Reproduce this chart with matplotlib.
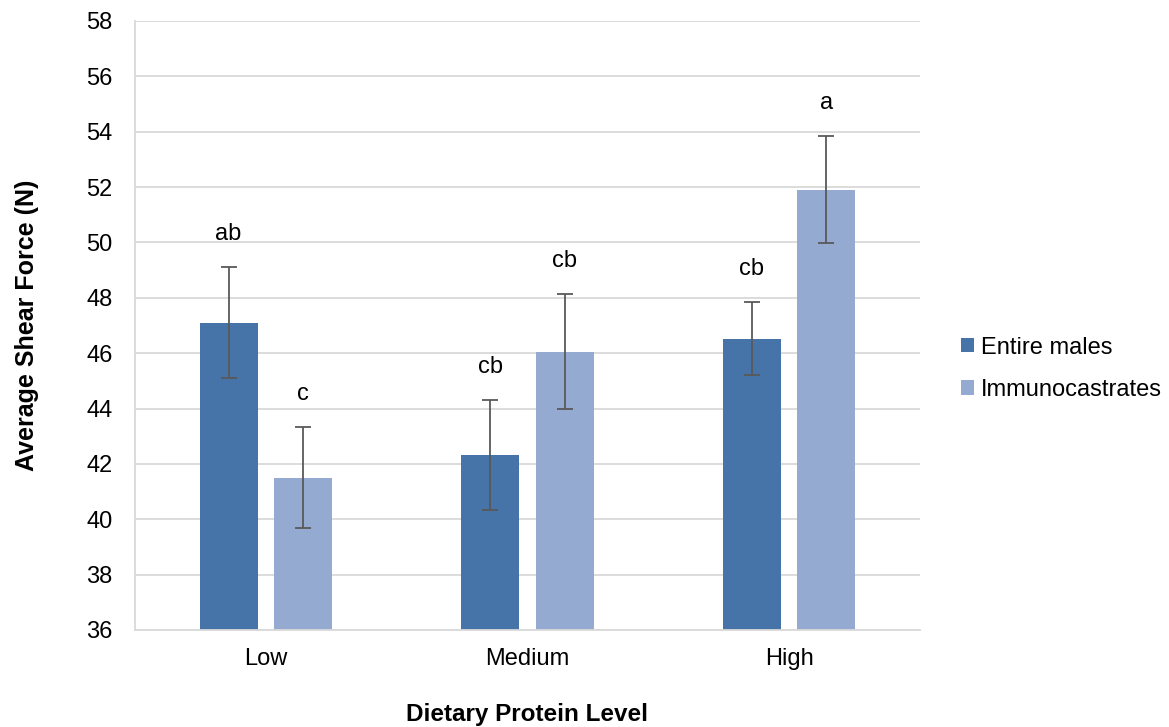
import matplotlib
matplotlib.use("Agg")
import matplotlib.pyplot as plt
import numpy as np

plt.rcParams['font.family'] = ['Liberation Sans', 'DejaVu Sans']

categories = ["Low", "Medium", "High"]
series_names = ["Entire males", "Immunocastrates"]
entire = [47.1, 42.32, 46.53]
entire_err = [2.0, 1.98, 1.31]
immuno = [41.5, 46.06, 51.9]
immuno_err = [1.83, 2.07, 1.93]
entire_letters = ["ab", "cb", "cb"]
immuno_letters = ["c", "cb", "a"]
yticks = [36, 38, 40, 42, 44, 46, 48, 50, 52, 54, 56, 58]

c_dark = "#4674A8"
c_light = "#95AAD0"
err_col = "#595959"
grid_col = "#D9D9D9"

W, H = 1169, 727
fig = plt.figure(figsize=(W / 100, H / 100), dpi=100)
ax = fig.add_axes([135 / W, 1 - 630 / H, (920 - 135) / W, (630 - 21) / H])

x = np.arange(len(categories))
w = 0.222
off = 0.1425

ax.bar(x - off, [v - 36 for v in entire], w, bottom=36, color=c_dark, label=series_names[0], zorder=2)
ax.bar(x + off, [v - 36 for v in immuno], w, bottom=36, color=c_light, label=series_names[1], zorder=2)
ax.errorbar(x - off, entire, yerr=entire_err, fmt='none', ecolor=err_col, elinewidth=1.3, capsize=5.5, capthick=1.3, zorder=3)
ax.errorbar(x + off, immuno, yerr=immuno_err, fmt='none', ecolor=err_col, elinewidth=1.3, capsize=5.5, capthick=1.3, zorder=3)

for xi, v, e, t in zip(x - off, entire, entire_err, entire_letters):
    ax.annotate(t, (xi, v + e), xytext=(0, 24), textcoords='offset points', ha='center', va='center', fontsize=17)
for xi, v, e, t in zip(x + off, immuno, immuno_err, immuno_letters):
    ax.annotate(t, (xi, v + e), xytext=(0, 24), textcoords='offset points', ha='center', va='center', fontsize=17)

ax.set_ylim(36, 58)
ax.set_xlim(-0.5, 2.5)
ax.set_yticks(yticks)
ax.set_xticks(x)
ax.set_xticklabels(categories)
ax.tick_params(axis='both', length=0, labelsize=17, colors='#000000')
ax.tick_params(axis='y', pad=16)
ax.tick_params(axis='x', pad=13)
ax.grid(axis='y', color=grid_col, linewidth=1.3, zorder=0)
ax.set_axisbelow(True)
for s in ['top', 'right']:
    ax.spines[s].set_visible(False)
ax.spines['left'].set_color(grid_col)
ax.spines['left'].set_linewidth(1.3)
ax.spines['bottom'].set_color(grid_col)
ax.spines['bottom'].set_linewidth(1.3)

ax.set_ylabel("Average Shear Force (N)", fontsize=18, fontweight='bold', labelpad=34)
ax.set_xlabel("Dietary Protein Level", fontsize=17.5, fontweight='bold', labelpad=24)

leg = ax.legend(loc='center left', bbox_to_anchor=(1.040, 0.429), frameon=False, fontsize=17,
                handlelength=0.55, handleheight=0.55, handletextpad=0.3, labelspacing=0.85,
                borderaxespad=0)

fig.savefig("out.png", dpi=100)
